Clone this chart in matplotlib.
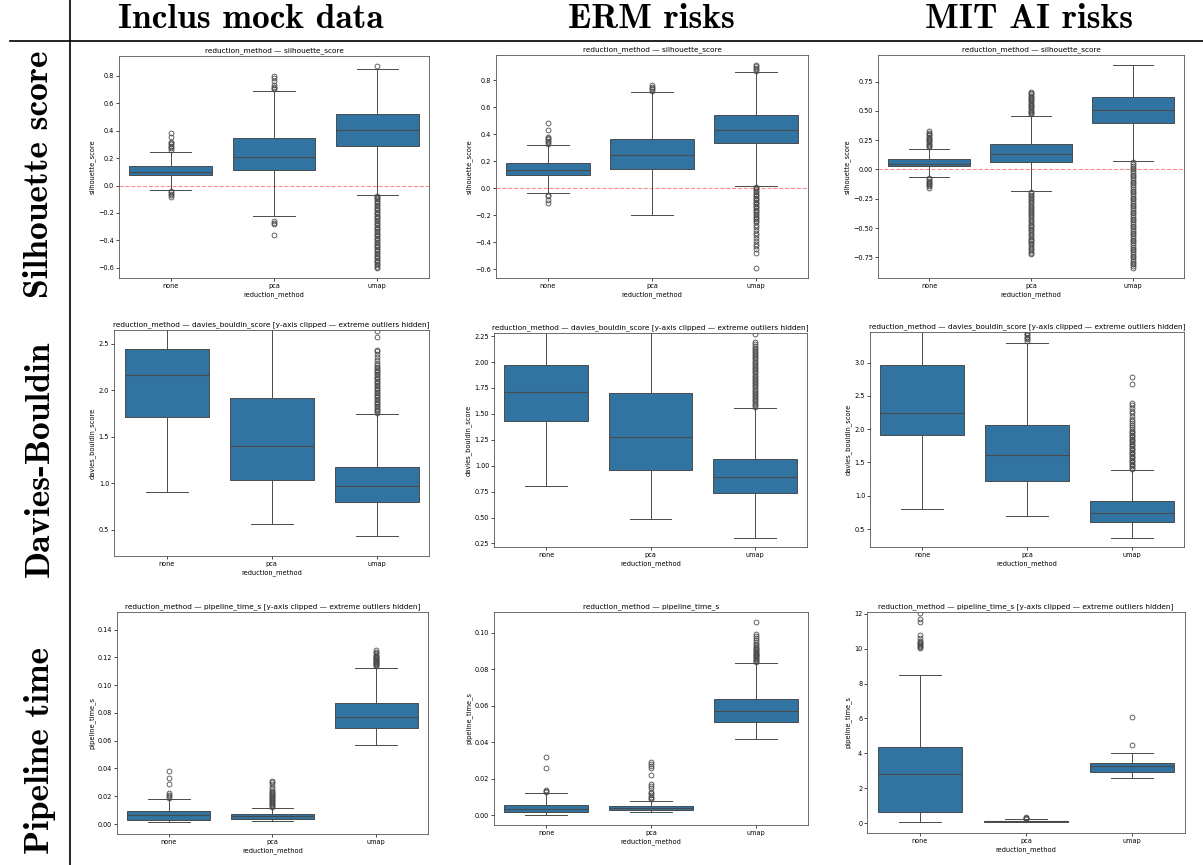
import matplotlib
matplotlib.use("Agg")
import matplotlib.pyplot as plt
from matplotlib.lines import Line2D

# categories / headers
methods = ["none", "pca", "umap"]
datasets = ["Inclus mock data", "ERM risks", "MIT AI risks"]
metrics = ["Silhouette score", "Davies-Bouldin", "Pipeline time"]

# box stats per panel (one entry per method)
inclus_sil = dict(q1=[0.075, 0.11, 0.285], med=[0.10, 0.21, 0.405], q3=[0.14, 0.345, 0.52],
                  lo=[-0.03, -0.22, -0.07], hi=[0.245, 0.69, 0.85])
inclus_sil_fliers = [
    [0.26, 0.27, 0.28, 0.29, 0.30, 0.31, 0.32, 0.35, 0.38, -0.04, -0.05, -0.06, -0.07, -0.08],
    [0.70, 0.71, 0.72, 0.73, 0.76, 0.78, 0.795, -0.26, -0.27, -0.28, -0.36],
    [0.87, -0.075, -0.08, -0.09, -0.10, -0.11, -0.12, -0.13, -0.14, -0.15, -0.16, -0.17, -0.18,
     -0.19, -0.20, -0.21, -0.22, -0.23, -0.24, -0.25, -0.26, -0.27, -0.28, -0.29, -0.30, -0.31,
     -0.32, -0.33, -0.34, -0.35, -0.36, -0.37, -0.38, -0.39, -0.40, -0.41, -0.42, -0.43, -0.44,
     -0.45, -0.46, -0.47, -0.48, -0.49, -0.50, -0.51, -0.52, -0.53, -0.54, -0.55, -0.56, -0.57,
     -0.58, -0.59, -0.60],
]
erm_sil = dict(q1=[0.097, 0.139, 0.331], med=[0.134, 0.243, 0.43], q3=[0.185, 0.363, 0.543],
               lo=[-0.037, -0.20, 0.017], hi=[0.318, 0.71, 0.862])
erm_sil_fliers = [
    [0.33, 0.34, 0.35, 0.36, 0.37, 0.38, 0.43, 0.48, -0.05, -0.06, -0.09, -0.11],
    [0.72, 0.73, 0.74, 0.75, 0.76],
    [0.87, 0.88, 0.89, 0.90, 0.91, 0.01, 0.0, -0.01, -0.02, -0.03, -0.04, -0.05, -0.06, -0.07,
     -0.08, -0.09, -0.10, -0.11, -0.12, -0.13, -0.14, -0.15, -0.16, -0.17, -0.18, -0.19, -0.20,
     -0.21, -0.22, -0.23, -0.24, -0.25, -0.27, -0.29, -0.31, -0.33, -0.35, -0.37, -0.39, -0.41,
     -0.43, -0.45, -0.48, -0.59],
]
mit_sil = dict(q1=[0.028, 0.06, 0.40], med=[0.045, 0.135, 0.51], q3=[0.088, 0.215, 0.62],
               lo=[-0.065, -0.18, 0.07], hi=[0.176, 0.46, 0.89])
mit_sil_fliers = [
    [0.19, 0.20, 0.21, 0.22, 0.23, 0.24, 0.25, 0.26, 0.27, 0.28, 0.29, 0.30, 0.31, 0.33,
     -0.075, -0.085, -0.095, -0.105, -0.115, -0.125, -0.135, -0.145, -0.16],
    [0.47, 0.48, 0.49, 0.50, 0.51, 0.52, 0.53, 0.54, 0.55, 0.56, 0.57, 0.58, 0.59, 0.60, 0.61,
     0.62, 0.63, 0.64, 0.65, 0.66,
     -0.19, -0.20, -0.215, -0.23, -0.24, -0.255, -0.27, -0.28, -0.295, -0.31, -0.32, -0.335,
     -0.35, -0.36, -0.375, -0.39, -0.40, -0.415, -0.43, -0.44, -0.455, -0.47, -0.48, -0.495,
     -0.51, -0.52, -0.535, -0.55, -0.56, -0.575, -0.59, -0.60, -0.615, -0.63, -0.64, -0.655,
     -0.67, -0.68, -0.695, -0.71, -0.72],
    [0.06, 0.045, 0.03, 0.015, 0.0, -0.015, -0.03, -0.045, -0.06, -0.075, -0.09, -0.105, -0.12,
     -0.135, -0.15, -0.165, -0.18, -0.195, -0.21, -0.225, -0.24, -0.255, -0.27, -0.285, -0.30,
     -0.315, -0.33, -0.345, -0.36, -0.375, -0.39, -0.405, -0.42, -0.435, -0.45, -0.465, -0.48,
     -0.495, -0.51, -0.525, -0.54, -0.555, -0.57, -0.585, -0.60, -0.615, -0.63, -0.645, -0.66,
     -0.675, -0.69, -0.705, -0.72, -0.735, -0.75, -0.765, -0.78, -0.795, -0.81, -0.825, -0.84],
]

inclus_db = dict(q1=[1.714, 1.04, 0.80], med=[2.162, 1.398, 0.97], q3=[2.446, 1.918, 1.175],
                 lo=[0.91, 0.568, 0.435], hi=[3.2, 3.4, 1.745])
inclus_db_fliers = [
    [], [],
    [1.76, 1.775, 1.79, 1.805, 1.82, 1.835, 1.85, 1.865, 1.88, 1.895, 1.91, 1.925, 1.94, 1.955,
     1.97, 1.985, 2.00, 2.015, 2.03, 2.045, 2.06, 2.075, 2.09, 2.105, 2.12, 2.135, 2.15, 2.165,
     2.18, 2.195, 2.21, 2.225, 2.24, 2.255, 2.27, 2.30, 2.33, 2.36, 2.39, 2.42, 2.44, 2.58, 2.64],
]
erm_db = dict(q1=[1.43, 0.96, 0.733], med=[1.71, 1.276, 0.894], q3=[1.968, 1.70, 1.06],
              lo=[0.80, 0.49, 0.30], hi=[2.6, 2.5, 1.555])
erm_db_fliers = [
    [], [],
    [1.57, 1.585, 1.60, 1.615, 1.63, 1.645, 1.66, 1.675, 1.69, 1.705, 1.72, 1.735, 1.75, 1.765,
     1.78, 1.795, 1.81, 1.825, 1.84, 1.855, 1.87, 1.885, 1.90, 1.915, 1.93, 1.945, 1.96, 1.975,
     1.99, 2.005, 2.02, 2.035, 2.05, 2.065, 2.08, 2.095, 2.11, 2.125, 2.14, 2.155, 2.17, 2.19, 2.27],
]
mit_db = dict(q1=[1.91, 1.22, 0.60], med=[2.245, 1.605, 0.74], q3=[2.97, 2.06, 0.915],
              lo=[0.80, 0.70, 0.36], hi=[3.6, 3.30, 1.39])
mit_db_fliers = [
    [],
    [3.33, 3.35, 3.37, 3.39, 3.41, 3.43, 3.45],
    [1.40, 1.42, 1.44, 1.46, 1.48, 1.50, 1.52, 1.54, 1.56, 1.58, 1.60, 1.62, 1.64, 1.66, 1.68,
     1.70, 1.72, 1.74, 1.76, 1.78, 1.80, 1.82, 1.84, 1.86, 1.88, 1.90, 1.92, 1.94, 1.96, 1.98,
     2.00, 2.03, 2.06, 2.09, 2.12, 2.16, 2.20, 2.24, 2.28, 2.32, 2.36, 2.40, 2.68, 2.79],
]

inclus_time = dict(q1=[0.0031, 0.0038, 0.0693], med=[0.0062, 0.0055, 0.077], q3=[0.0094, 0.007, 0.087],
                   lo=[0.0012, 0.0022, 0.0571], hi=[0.018, 0.0113, 0.1127])
inclus_time_fliers = [
    [0.019, 0.020, 0.021, 0.022, 0.029, 0.033, 0.038],
    [0.012, 0.0128, 0.0135, 0.0143, 0.015, 0.0158, 0.0165, 0.0173, 0.018, 0.0188, 0.0195,
     0.0203, 0.021, 0.0218, 0.0225, 0.0233, 0.024, 0.0255, 0.027, 0.0285, 0.030, 0.031],
    [0.114, 0.1145, 0.115, 0.1155, 0.116, 0.1165, 0.117, 0.1175, 0.118, 0.1185, 0.119, 0.1195,
     0.120, 0.1205, 0.121, 0.122, 0.123, 0.124, 0.125],
]
erm_time = dict(q1=[0.0019, 0.0028, 0.0509], med=[0.0037, 0.0040, 0.057], q3=[0.0058, 0.005, 0.0638],
                lo=[0.0, 0.0020, 0.042], hi=[0.012, 0.0079, 0.0832])
erm_time_fliers = [
    [0.013, 0.0135, 0.014, 0.026, 0.032],
    [0.009, 0.0095, 0.010, 0.011, 0.012, 0.013, 0.015, 0.016, 0.017, 0.022, 0.026, 0.027, 0.028, 0.029],
    [0.084, 0.0845, 0.085, 0.0855, 0.086, 0.0865, 0.087, 0.0875, 0.088, 0.0885, 0.089, 0.0895,
     0.090, 0.0905, 0.091, 0.0915, 0.092, 0.093, 0.094, 0.095, 0.096, 0.097, 0.098, 0.099, 0.106],
]
mit_time = dict(q1=[0.62, 0.07, 2.92], med=[2.84, 0.10, 3.27], q3=[4.37, 0.13, 3.42],
                lo=[0.05, 0.04, 2.6], hi=[8.5, 0.22, 4.0])
mit_time_fliers = [
    [10.05, 10.1, 10.15, 10.2, 10.25, 10.3, 10.36, 10.42, 10.6, 10.8, 11.55, 11.7, 12.05],
    [0.25, 0.28, 0.30, 0.33],
    [4.5, 6.1],
]

panels = [
    [(inclus_sil, inclus_sil_fliers), (erm_sil, erm_sil_fliers), (mit_sil, mit_sil_fliers)],
    [(inclus_db, inclus_db_fliers), (erm_db, erm_db_fliers), (mit_db, mit_db_fliers)],
    [(inclus_time, inclus_time_fliers), (erm_time, erm_time_fliers), (mit_time, mit_time_fliers)],
]
metric_cols = ["silhouette_score", "davies_bouldin_score", "pipeline_time_s"]
clipped = [[False, False, False], [True, True, True], [True, False, True]]
ylims = [[None, None, None],
         [(0.22, 2.65), (0.216, 2.28), (0.23, 3.46)],
         [(-0.0072, 0.1527), None, (-0.57, 12.1)]]

# axes boxes in pixels: left, top, right, bottom
boxes = [
    [(119, 56, 429, 278), (496, 55, 808, 278), (878, 55, 1184, 278)],
    [(114, 330, 429, 556), (494, 333, 807, 547), (870, 332, 1184, 547)],
    [(117, 612, 428, 834), (494, 612, 808, 825), (867, 612, 1185, 833)],
]

W, H = 1203, 865
BOX = "#3274a1"
LC = "#4a4a4a"

fig = plt.figure(figsize=(W / 100, H / 100), dpi=100)


def draw_panel(ax, stats, fliers, metric, clip, ylim):
    bxp_stats = [
        dict(q1=stats["q1"][i], med=stats["med"][i], q3=stats["q3"][i],
             whislo=stats["lo"][i], whishi=stats["hi"][i], fliers=fliers[i], label=m)
        for i, m in enumerate(methods)
    ]
    ax.bxp(bxp_stats, positions=[0, 1, 2], widths=0.8, capwidths=0.4, patch_artist=True,
           boxprops=dict(facecolor=BOX, edgecolor=LC, linewidth=0.7),
           medianprops=dict(color=LC, linewidth=0.8),
           whiskerprops=dict(color=LC, linewidth=0.7),
           capprops=dict(color=LC, linewidth=0.7),
           flierprops=dict(marker="o", markersize=3.5, markerfacecolor="none",
                           markeredgecolor=LC, markeredgewidth=0.6))
    ax.set_xlim(-0.5, 2.5)
    if ylim is not None:
        ax.set_ylim(*ylim)
    if metric == "silhouette_score":
        ax.axhline(0, color="red", linestyle="--", alpha=0.45, linewidth=0.8, zorder=0.5)
    title = f"reduction_method — {metric}"
    if clip:
        title += " [y-axis clipped — extreme outliers hidden]"
    ax.set_title(title, fontsize=5.3, pad=3)
    ax.set_xlabel("reduction_method", fontsize=4.8, labelpad=1.5)
    ax.set_ylabel(metric, fontsize=4.8, labelpad=2)
    ax.set_xticks([0, 1, 2], methods)
    ax.tick_params(labelsize=4.7, length=2, width=0.5, pad=1.5)
    for s in ax.spines.values():
        s.set_linewidth(0.6)
        s.set_color("#555555")


for r in range(3):
    for c in range(3):
        l, t, rr, b = boxes[r][c]
        ax = fig.add_axes([l / W, 1 - b / H, (rr - l) / W, (b - t) / H])
        st, fl = panels[r][c]
        draw_panel(ax, st, fl, metric_cols[r], clipped[r][c], ylims[r][c])

# column headers and row labels
for x, name in zip([251, 651, 1029], datasets):
    fig.text(x / W, 1 - 19 / H, name, fontfamily="cmb10", fontsize=25.5, ha="center", va="center")
for y, name in zip([174, 459, 750], metrics):
    fig.text(40 / W, 1 - y / H, name, fontfamily="cmb10", fontsize=25.5, rotation=90,
             ha="center", va="center")

fig.add_artist(Line2D([10 / W, 1.0], [1 - 41 / H, 1 - 41 / H], color="black", linewidth=1.2))
fig.add_artist(Line2D([70 / W, 70 / W], [0.0, 1.0], color="black", linewidth=1.2))

fig.savefig("out.png", dpi=100)
